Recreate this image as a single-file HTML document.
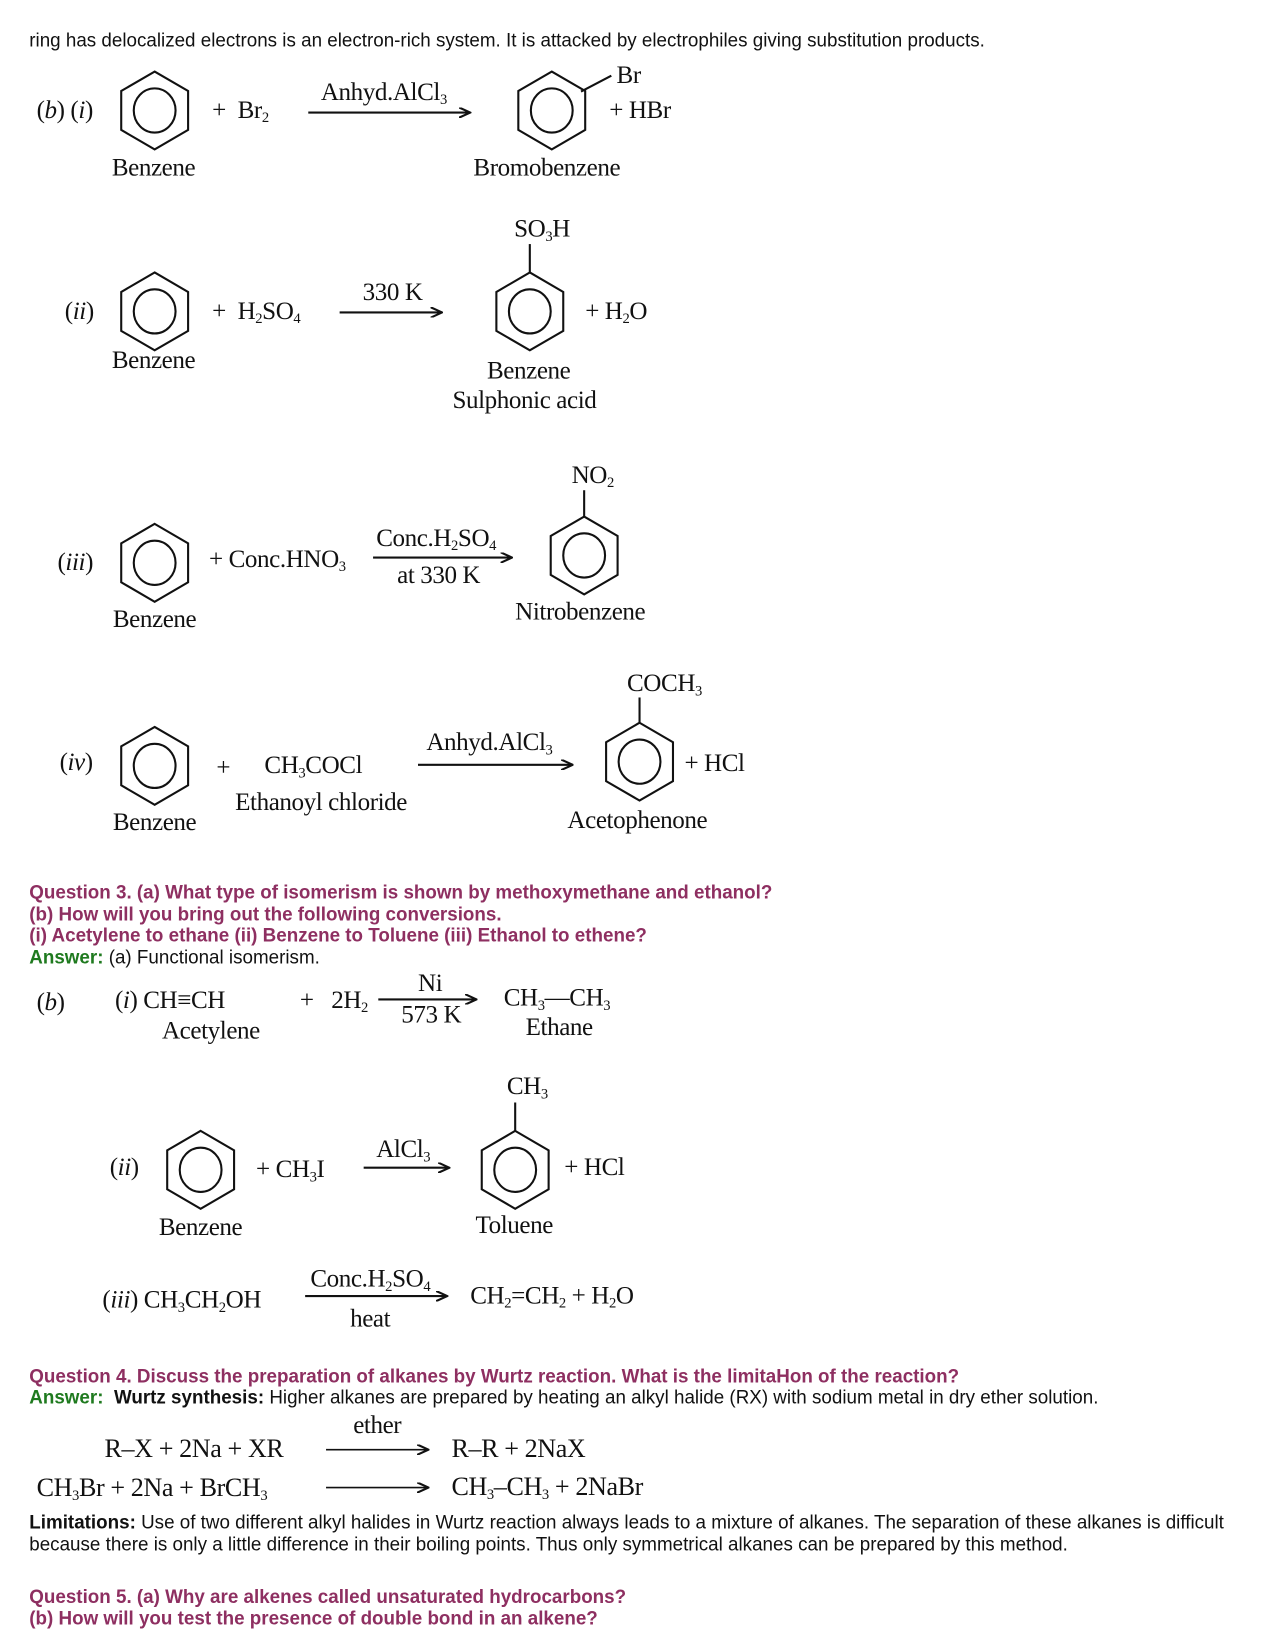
<!DOCTYPE html>
<html><head><meta charset="utf-8"><style>
html,body{margin:0;padding:0;background:#fff;width:1275px;height:1650px;overflow:hidden}
#c{position:absolute;left:0;top:0;width:1220px;height:1568px;transform:scale(1.045,1.052);transform-origin:0 0}
.t{position:absolute;white-space:nowrap;line-height:24px;height:24px}
.s{font-family:"Liberation Sans",Arial,sans-serif;font-size:18px;color:#111}
.q{font-family:"Liberation Sans",Arial,sans-serif;font-size:18px;font-weight:bold;color:#8e2f61}
.a{color:#1f7a1f;font-weight:bold}
.m{font-family:"Liberation Serif","Times New Roman",serif;font-size:24px;color:#111;letter-spacing:-0.4px}
sub{font-size:14px;vertical-align:-4px;line-height:0}
i{font-style:italic}
svg{position:absolute;left:0;top:0}
</style></head><body><div id="c">
<svg width="1220" height="1568" viewBox="0 0 1220 1568">
<defs>
<g id="bz"><polygon points="0,-37 32,-18.5 32,18.5 0,37 -32,18.5 -32,-18.5" fill="none" stroke="#111" stroke-width="2"/><ellipse cx="0" cy="0" rx="20" ry="21" fill="none" stroke="#111" stroke-width="2"/></g>
<marker id="ah" markerWidth="12" markerHeight="10" refX="11" refY="5" orient="auto" markerUnits="userSpaceOnUse"><path d="M0,0 L11,5 L0,10" fill="none" stroke="#111" stroke-width="2"/></marker>
</defs>
<g stroke="#111" stroke-width="2" fill="none">
<use href="#bz" x="148" y="105"/><use href="#bz" x="528" y="105"/>
<line x1="556" y1="87" x2="585" y2="72"/>
<line x1="295" y1="107" x2="450" y2="107" marker-end="url(#ah)"/>
<use href="#bz" x="148" y="296"/><use href="#bz" x="507" y="296"/>
<line x1="507" y1="259" x2="507" y2="232"/>
<line x1="325" y1="297" x2="423" y2="297" marker-end="url(#ah)"/>
<use href="#bz" x="148" y="535"/><use href="#bz" x="559" y="528"/>
<line x1="559" y1="491" x2="559" y2="466"/>
<line x1="357" y1="530" x2="490" y2="530" marker-end="url(#ah)"/>
<use href="#bz" x="148" y="728"/><use href="#bz" x="612" y="724"/>
<line x1="612" y1="687" x2="612" y2="663"/>
<line x1="400" y1="727" x2="548" y2="727" marker-end="url(#ah)"/>
<line x1="362" y1="950" x2="456" y2="950" marker-end="url(#ah)"/>
<use href="#bz" x="192" y="1112"/><use href="#bz" x="493" y="1112"/>
<line x1="493" y1="1075" x2="493" y2="1048"/>
<line x1="348" y1="1110" x2="430" y2="1110" marker-end="url(#ah)"/>
<line x1="292" y1="1232" x2="428" y2="1232" marker-end="url(#ah)"/>
<line x1="312" y1="1378" x2="410" y2="1378" stroke-width="1.5" marker-end="url(#ah)"/>
<line x1="312" y1="1414" x2="410" y2="1414" stroke-width="1.5" marker-end="url(#ah)"/>
</g>
</svg>
<div class="t s" style="left:28px;top:26px">ring has delocalized electrons is an electron-rich system. It is attacked by electrophiles giving substitution products.</div>

<div class="t m" style="left:35px;top:93px">(<i>b</i>) (<i>i</i>)</div>
<div class="t m" style="left:203px;top:93px">+ &nbsp;Br<sub>2</sub></div>
<div class="t m" style="left:307px;top:76px">Anhyd.AlCl<sub>3</sub></div>
<div class="t m" style="left:590px;top:60px">Br</div>
<div class="t m" style="left:583px;top:93px">+ HBr</div>
<div class="t m" style="left:107px;top:148px">Benzene</div>
<div class="t m" style="left:453px;top:148px">Bromobenzene</div>

<div class="t m" style="left:62px;top:284px">(<i>ii</i>)</div>
<div class="t m" style="left:203px;top:284px">+ &nbsp;H<sub>2</sub>SO<sub>4</sub></div>
<div class="t m" style="left:347px;top:266px">330 K</div>
<div class="t m" style="left:492px;top:206px">SO<sub>3</sub>H</div>
<div class="t m" style="left:560px;top:284px">+ H<sub>2</sub>O</div>
<div class="t m" style="left:107px;top:331px">Benzene</div>
<div class="t m" style="left:466px;top:341px">Benzene</div>
<div class="t m" style="left:433px;top:369px">Sulphonic acid</div>

<div class="t m" style="left:55px;top:523px">(<i>iii</i>)</div>
<div class="t m" style="left:200px;top:520px">+ Conc.HNO<sub>3</sub></div>
<div class="t m" style="left:360px;top:500px">Conc.H<sub>2</sub>SO<sub>4</sub></div>
<div class="t m" style="left:380px;top:535px">at 330 K</div>
<div class="t m" style="left:547px;top:440px">NO<sub>2</sub></div>
<div class="t m" style="left:108px;top:577px">Benzene</div>
<div class="t m" style="left:493px;top:570px">Nitrobenzene</div>

<div class="t m" style="left:57px;top:713px">(<i>iv</i>)</div>
<div class="t m" style="left:207px;top:718px">+</div>
<div class="t m" style="left:253px;top:716px">CH<sub>3</sub>COCl</div>
<div class="t m" style="left:225px;top:751px">Ethanoyl chloride</div>
<div class="t m" style="left:408px;top:694px">Anhyd.AlCl<sub>3</sub></div>
<div class="t m" style="left:600px;top:638px">COCH<sub>3</sub></div>
<div class="t m" style="left:655px;top:714px">+ HCl</div>
<div class="t m" style="left:108px;top:770px">Benzene</div>
<div class="t m" style="left:543px;top:768px">Acetophenone</div>

<div class="t q" style="left:28px;top:836px">Question 3. (a) What type of isomerism is shown by methoxymethane and ethanol?</div>
<div class="t q" style="left:28px;top:857px">(b) How will you bring out the following conversions.</div>
<div class="t q" style="left:28px;top:877px">(i) Acetylene to ethane (ii) Benzene to Toluene (iii) Ethanol to ethene?</div>
<div class="t s" style="left:28px;top:898px"><span class="a">Answer:</span> (a) Functional isomerism.</div>

<div class="t m" style="left:35px;top:941px">(<i>b</i>)</div>
<div class="t m" style="left:110px;top:939px">(<i>i</i>) CH&#8801;CH</div>
<div class="t m" style="left:287px;top:939px">+ &nbsp;&nbsp;2H<sub>2</sub></div>
<div class="t m" style="left:400px;top:923px">Ni</div>
<div class="t m" style="left:384px;top:953px">573 K</div>
<div class="t m" style="left:482px;top:937px">CH<sub>3</sub>&#8212;CH<sub>3</sub></div>
<div class="t m" style="left:155px;top:968px">Acetylene</div>
<div class="t m" style="left:503px;top:965px">Ethane</div>

<div class="t m" style="left:485px;top:1021px">CH<sub>3</sub></div>
<div class="t m" style="left:105px;top:1098px">(<i>ii</i>)</div>
<div class="t m" style="left:245px;top:1100px">+ CH<sub>3</sub>I</div>
<div class="t m" style="left:360px;top:1081px">AlCl<sub>3</sub></div>
<div class="t m" style="left:540px;top:1098px">+ HCl</div>
<div class="t m" style="left:152px;top:1155px">Benzene</div>
<div class="t m" style="left:455px;top:1153px">Toluene</div>

<div class="t m" style="left:98px;top:1224px">(<i>iii</i>) CH<sub>3</sub>CH<sub>2</sub>OH</div>
<div class="t m" style="left:297px;top:1204px">Conc.H<sub>2</sub>SO<sub>4</sub></div>
<div class="t m" style="left:335px;top:1242px">heat</div>
<div class="t m" style="left:450px;top:1220px">CH<sub>2</sub>=CH<sub>2</sub> + H<sub>2</sub>O</div>

<div class="t q" style="left:28px;top:1296px">Question 4. Discuss the preparation of alkanes by Wurtz reaction. What is the limitaHon of the reaction?</div>
<div class="t s" style="left:28px;top:1316px"><span class="a">Answer:</span> &nbsp;<b>Wurtz synthesis:</b> Higher alkanes are prepared by heating an alkyl halide (RX) with sodium metal in dry ether solution.</div>
<div class="t m" style="left:338px;top:1343px">ether</div>
<div class="t m" style="left:100px;top:1366px;font-size:25px">R&#8211;X + 2Na + XR</div>
<div class="t m" style="left:432px;top:1366px;font-size:25px">R&#8211;R + 2NaX</div>
<div class="t m" style="left:35px;top:1403px;font-size:25px">CH<sub>3</sub>Br + 2Na + BrCH<sub>3</sub></div>
<div class="t m" style="left:432px;top:1402px;font-size:25px">CH<sub>3</sub>&#8211;CH<sub>3</sub> + 2NaBr</div>
<div class="t s" style="left:28px;top:1435px"><b>Limitations:</b> Use of two different alkyl halides in Wurtz reaction always leads to a mixture of alkanes. The separation of these alkanes is difficult</div>
<div class="t s" style="left:28px;top:1456px">because there is only a little difference in their boiling points. Thus only symmetrical alkanes can be prepared by this method.</div>

<div class="t q" style="left:28px;top:1506px">Question 5. (a) Why are alkenes called unsaturated hydrocarbons?</div>
<div class="t q" style="left:28px;top:1526px">(b) How will you test the presence of double bond in an alkene?</div>
</div></body></html>
